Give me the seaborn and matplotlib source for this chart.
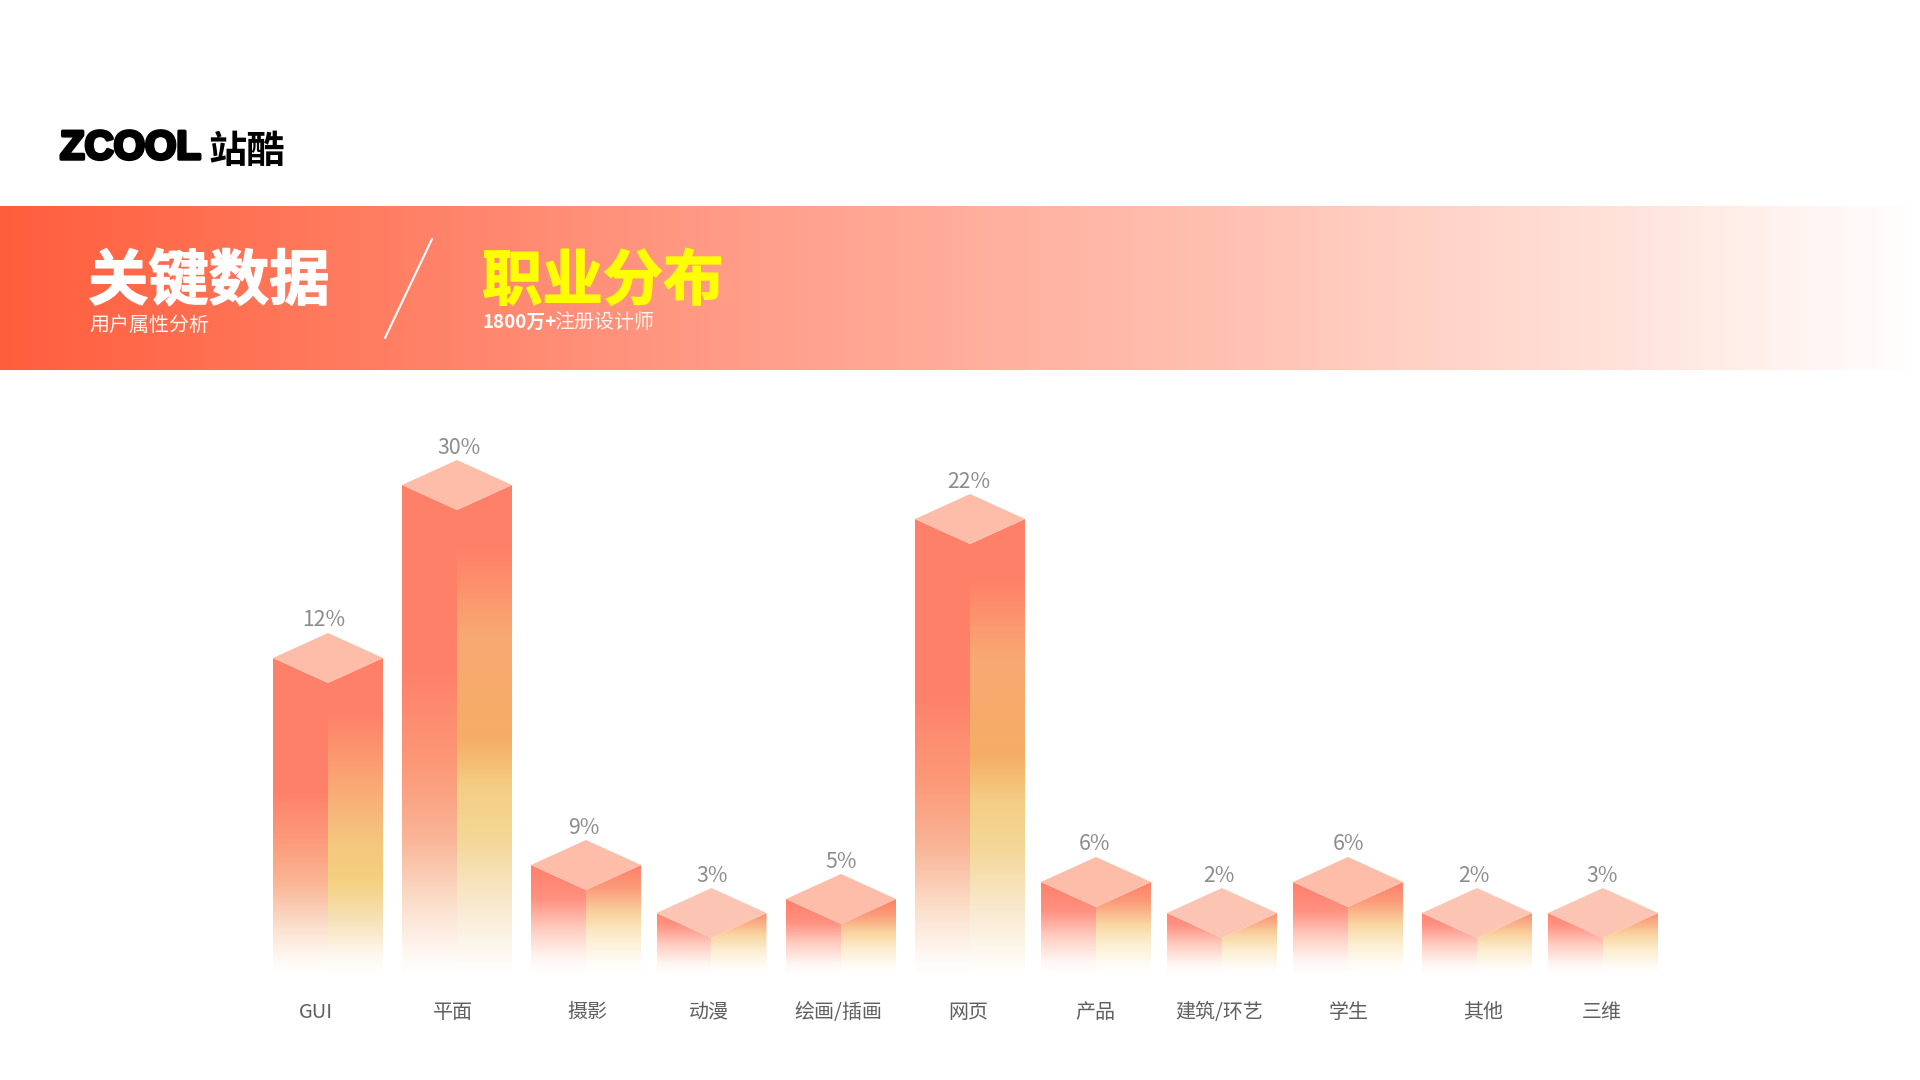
import numpy as np
import pandas as pd
import seaborn as sns
import matplotlib.pyplot as plt
import matplotlib.patheffects as pe
from matplotlib.colors import LinearSegmentedColormap
from matplotlib.patches import Polygon

sns.set_theme(style="white")
plt.rcParams['font.family'] = ['Noto Sans CJK SC', 'DejaVu Sans']

# values
categories = ["GUI", "平面", "摄影", "动漫", "绘画/插画", "网页", "产品", "建筑/环艺", "学生", "其他", "三维"]
percents = [12, 30, 9, 3, 5, 22, 6, 2, 6, 2, 3]
# drawn height of each bar, the bars are not to scale with the percents
bar_heights = [315, 488, 108, 60, 74, 454, 91, 60, 91, 60, 60]

# layout, in pixels of the 1920 wide picture
bar_x = [328, 457, 586, 711.5, 841, 970, 1096, 1222, 1348, 1477, 1603]
label_x = [324, 459, 584, 712, 841, 969, 1095, 1219, 1348, 1474, 1602]
tick_x = [316, 453, 587, 709, 838, 968, 1095, 1219, 1349, 1483, 1602]
BASE_Y = 975
DEPTH = 25

# gradients, tall, middle and short bars use different stops
left_tall = LinearSegmentedColormap.from_list("lt", [
    (0, "#FF8069"), (0.38, "#FF8069"), (0.58, "#FC9A78"), (0.72, "#F9B496"),
    (0.85, "#FBDDC8"), (0.95, "#FEF6F0"), (1, "#FFFFFF")])
right_tall = LinearSegmentedColormap.from_list("rt", [
    (0, "#FF8069"), (0.13, "#FF8069"), (0.3, "#F9A873"), (0.52, "#F5AE65"),
    (0.62, "#F4CE85"), (0.72, "#F4D796"), (0.85, "#F8E8CC"), (1, "#FFFFFF")])
left_mid = LinearSegmentedColormap.from_list("lm", [
    (0, "#FF8069"), (0.42, "#FF8069"), (0.6, "#FC9F7E"), (0.72, "#FAB898"),
    (0.85, "#FBE0CE"), (0.95, "#FFF8F3"), (1, "#FFFFFF")])
right_mid = LinearSegmentedColormap.from_list("rm", [
    (0, "#FF8069"), (0.17, "#FF8069"), (0.4, "#FAA875"), (0.58, "#F5C67E"),
    (0.7, "#F4D07F"), (0.82, "#F6E0B4"), (0.93, "#FDF6EC"), (1, "#FFFFFF")])
left_short = LinearSegmentedColormap.from_list("ls", [
    (0, "#FF8069"), (0.3, "#FF9080"), (0.6, "#FFD0C4"), (0.85, "#FFF6F3"), (1, "#FFFFFF")])
right_short = LinearSegmentedColormap.from_list("rs", [
    (0, "#FF8069"), (0.2, "#FB9A78"), (0.45, "#F9D5A0"), (0.65, "#FBEDCE"), (0.9, "#FFFDF9"), (1, "#FFFFFF")])
banner = LinearSegmentedColormap.from_list("banner", [
    (0, "#FF5E3C"), (0.4, "#FF9F8B"), (0.64, "#FFC1B2"), (0.85, "#FFE3DB"), (1, "#FFFFFF")])

fig = plt.figure(figsize=(19.2, 10.8), dpi=100, facecolor="white")

# page layer: logo and banner, y runs down like the picture
bg = fig.add_axes([0, 0, 1, 1])
bg.imshow(np.linspace(0, 1, 512)[None, :], cmap=banner, extent=(0, 1920, 370, 206), aspect="auto")
bg.set_xlim(0, 1920)
bg.set_ylim(1080, 0)
bg.axis("off")

logo = bg.text(60, 148, "ZCOOL", fontsize=29, fontweight="bold", color="black", va="center",
               family=["Liberation Sans", "DejaVu Sans"])
logo.set_path_effects([pe.withStroke(linewidth=2.5, foreground="black")])
bg.text(208, 151, "站酷", fontsize=27.5, fontweight="bold", color="black", va="center")

title1 = bg.text(88, 282, "关键数据", fontsize=43.5, fontweight="bold", color="white", va="center")
title2 = bg.text(482, 282, "职业分布", fontsize=43.5, fontweight="bold", color="#FFFF00", va="center")
for t in (title1, title2):
    t.set_path_effects([pe.withStroke(linewidth=1, foreground=t.get_color())])
bg.text(89, 325, "用户属性分析", fontsize=14.4, color="#FFF3EF", va="center")
bg.text(482, 322, "1800万+", fontsize=13.5, fontweight="bold", color="white", va="center")
bg.text(554, 322, "注册设计师", fontsize=14.4, color="#FFF3EF", va="center")
bg.plot([432, 385], [239, 338], color="white", lw=1.5)

# chart layer: y is the height above the bar base
ax = fig.add_axes([0, (1080 - BASE_Y) / 1080, 1, (BASE_Y - 400) / 1080])
ax.patch.set_alpha(0)
df = pd.DataFrame({"x": bar_x, "height": [h + BASE_Y - 973 for h in bar_heights]})
sns.barplot(data=df, x="x", y="height", native_scale=True, width=110 / 125.5, color="#FF8069", ax=ax)

for patch, pct, lx in zip(ax.patches, percents, label_x):
    patch.set_alpha(0)
    x0, x1 = patch.get_x(), patch.get_x() + patch.get_width()
    cx = (x0 + x1) / 2
    h = patch.get_height()
    if h > 400:
        left_map, right_map = left_tall, right_tall
    elif h > 200:
        left_map, right_map = left_mid, right_mid
    else:
        left_map, right_map = left_short, right_short
    start = 0.15 if h < 70 else 0
    ramp = np.linspace(start, 1, 256)[:, None]
    faces = [
        (left_map, x0, cx, [(x0, h), (cx, h - DEPTH), (cx, 0), (x0, 0)]),
        (right_map, cx, x1, [(cx, h - DEPTH), (x1, h), (x1, 0), (cx, 0)]),
    ]
    for cmap, a, b, verts in faces:
        im = ax.imshow(ramp, cmap=cmap, vmin=0, vmax=1, extent=(a, b, 0, h), aspect="auto", interpolation="bilinear")
        im.set_clip_path(Polygon(verts, transform=ax.transData))
    ax.fill([x0, cx, x1, cx], [h, h + DEPTH, h, h - DEPTH],
            color="#FCC5B3" if h < 70 else "#FDBDA9", lw=0)
    ax.text(lx, h + DEPTH + 12.5, f"{pct}%", fontsize=15.3, color="#8C8C8C", ha="center", va="center")

ax.set_xticks(tick_x, categories)
ax.set_yticks([])
ax.tick_params(axis="x", length=0, pad=19.5, labelsize=14.4, labelcolor="#5F5F5F")
ax.set_xlabel("")
ax.set_ylabel("")
ax.set_xlim(0, 1920)
ax.set_ylim(0, BASE_Y - 400)
sns.despine(ax=ax, left=True, bottom=True)

fig.savefig("out.png", dpi=100)
